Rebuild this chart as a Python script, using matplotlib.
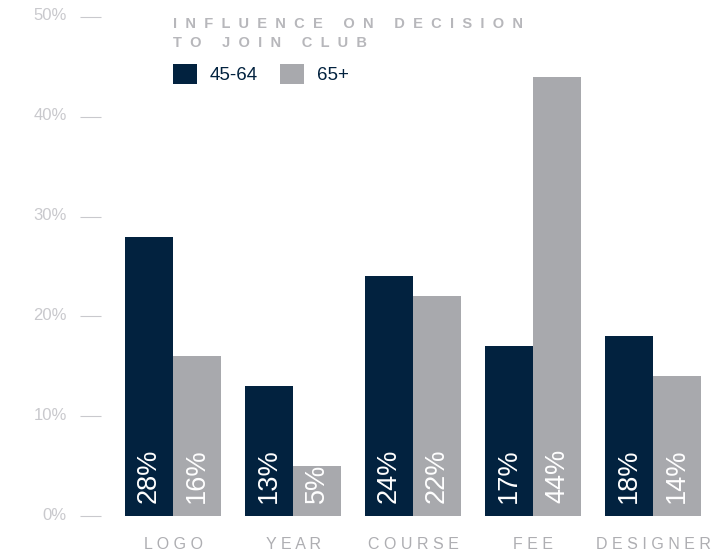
import matplotlib
matplotlib.use("Agg")
import matplotlib.pyplot as plt
import matplotlib.transforms as mtransforms
import numpy as np

plt.rcParams['font.family'] = ['Liberation Sans', 'DejaVu Sans']

# Share of members by age group naming each factor as an influence
categories = ["LOGO", "YEAR", "COURSE", "FEE", "DESIGNER"]
age_groups = ["45-64", "65+"]
share_45_64 = [28, 13, 24, 17, 18]
share_65_plus = [16, 5, 22, 44, 14]
y_ticks = [0, 10, 20, 30, 40, 50]

navy = "#02223f"
grey = "#a8a9ad"
tick_grey = "#c9c9cd"
label_grey = "#aeaeb2"
title_grey = "#b7b7bb"

W, H = 720, 553
fig = plt.figure(figsize=(W / 100, H / 100), dpi=100)
ax = fig.add_axes([101 / W, 37 / H, 619 / W, 499 / H])

x = np.arange(len(categories))
bw = 0.4
b1 = ax.bar(x - bw / 2, share_45_64, bw, color=navy, label=age_groups[0])
b2 = ax.bar(x + bw / 2, share_65_plus, bw, color=grey, label=age_groups[1])

# values written inside the bars, reading upwards
for bars, vals in ((b1, share_45_64), (b2, share_65_plus)):
    for rect, v in zip(bars, vals):
        ax.text(rect.get_x() + rect.get_width() / 2, 1.3, f"{v}%",
                rotation=90, ha="center", va="bottom", color="white",
                fontsize=19.5)

ax.set_xlim(-0.6, 4.5583)
ax.set_ylim(0, 50)

for s in ax.spines.values():
    s.set_visible(False)

ax.set_xticks(x)
ax.set_xticklabels([" ".join(c) for c in categories], color=label_grey,
                   fontsize=11.5)
ax.tick_params(axis="x", length=0, pad=15)

ax.set_yticks(y_ticks)
ax.set_yticklabels([f"{t}%" for t in y_ticks], color=tick_grey, fontsize=12)
ax.tick_params(axis="y", direction="out", length=15, width=0.8,
               color=tick_grey, pad=9.5)
shift = mtransforms.ScaledTranslation(0, 2.5 / 100, fig.dpi_scale_trans)
for lbl in ax.get_yticklabels():
    lbl.set_transform(lbl.get_transform() + shift)

# spaced-out heading
def spaced(s):
    return "     ".join("  ".join(w) for w in s.split())

fig.text(173 / W, 1 - 28 / H, spaced("INFLUENCE ON DECISION"), color=title_grey,
         fontsize=10.5, fontweight="bold", va="baseline", ha="left")
fig.text(173 / W, 1 - 47 / H, spaced("TO JOIN CLUB"), color=title_grey,
         fontsize=10.5, fontweight="bold", va="baseline", ha="left")

leg = fig.legend(handles=[b1, b2], loc="upper left",
                 bbox_to_anchor=(173 / W, 1 - 64 / H), ncol=2, frameon=False,
                 fontsize=13.5, handlelength=1.28, handleheight=1.28,
                 handletextpad=0.7, columnspacing=1.17, borderpad=0,
                 borderaxespad=0)
for t in leg.get_texts():
    t.set_color(navy)

fig.savefig("out.png", dpi=100)
